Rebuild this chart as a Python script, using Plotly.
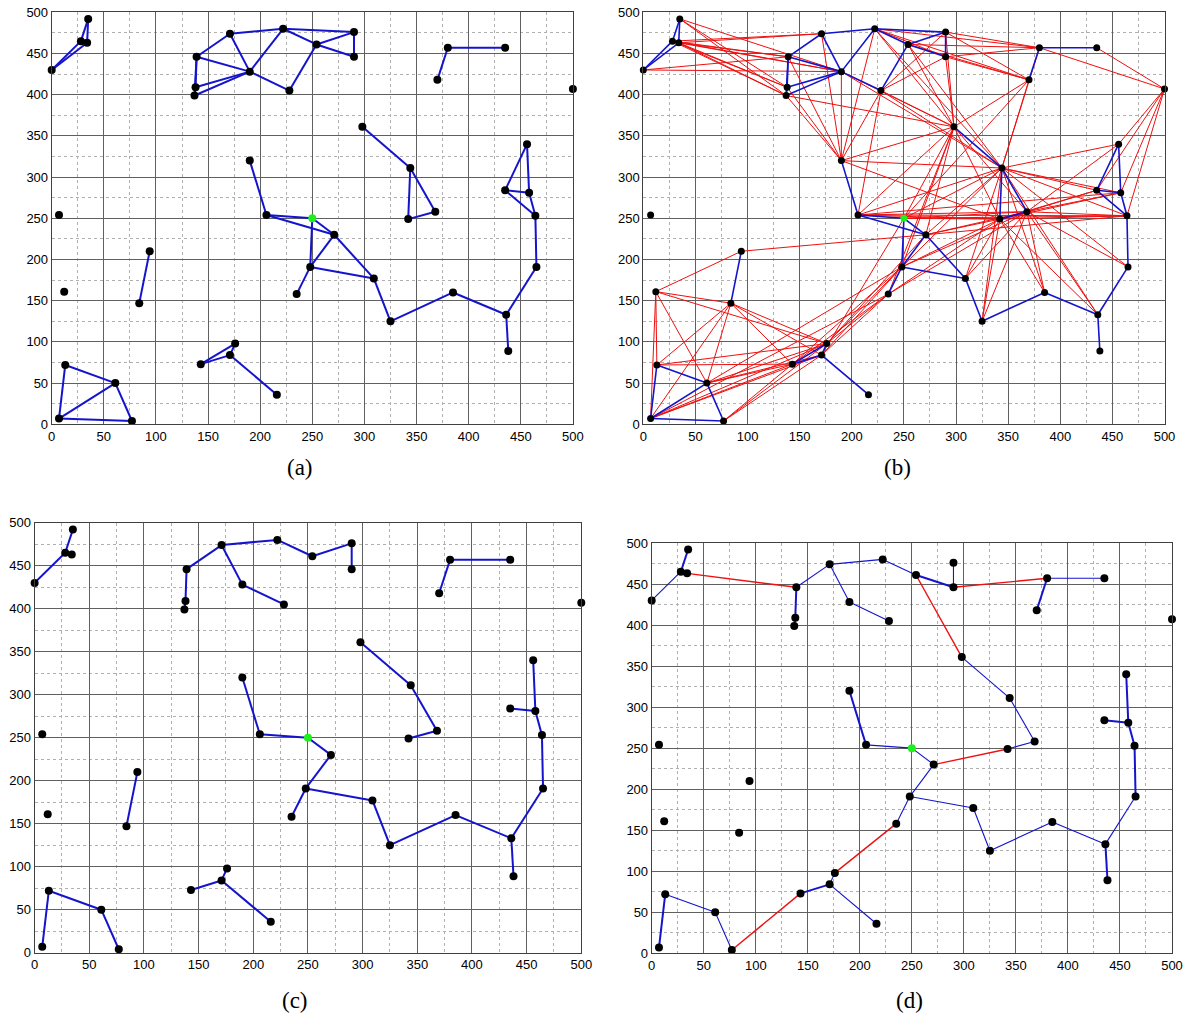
import plotly.graph_objects as go

# ---------------- data ----------------
node_x = [0, 28, 34, 35, 139, 138, 137, 171, 190, 222, 228, 254, 290, 290, 380, 435, 370, 500, 298, 344,
          368, 342, 456, 435, 458, 464, 465, 436, 438, 385, 325, 309, 271, 248, 235, 250, 206, 190, 7, 12,
          94, 84, 13, 61, 7, 77, 143, 176, 171, 216]
node_y = [430, 465, 463, 492, 446, 409, 399, 474, 428, 480, 405, 461, 476, 446, 457, 457, 418, 407, 361, 311,
          258, 249, 340, 284, 281, 253, 191, 133, 89, 160, 125, 177, 230, 191, 158, 250, 254, 320, 254, 161,
          210, 147, 72, 50, 7, 4, 73, 98, 84, 36]
source_node = 36  # green node (1-based)

# (a) / (b) blue edges (1-based node indices)
blue_a = [(1, 2), (1, 3), (2, 3), (2, 4), (3, 4),
          (5, 6), (6, 7), (5, 7), (5, 9), (6, 9), (7, 9), (5, 8), (8, 9), (8, 10), (9, 10), (9, 11),
          (10, 12), (11, 12), (10, 13), (12, 13), (12, 14), (13, 14),
          (15, 16), (15, 17),
          (19, 20), (20, 21), (20, 22), (21, 22),
          (23, 24), (23, 25), (24, 25), (24, 26), (25, 26), (26, 27), (27, 28), (28, 29), (28, 30),
          (30, 31), (31, 32), (32, 33), (32, 34), (33, 34), (34, 35), (34, 36), (36, 37), (37, 33),
          (36, 33), (37, 38),
          (41, 42),
          (43, 44), (43, 45), (44, 45), (44, 46), (45, 46),
          (47, 48), (47, 49), (48, 49), (49, 50)]

# (b) red edges
red_b = [(1, 5), (1, 9), (2, 5), (2, 6), (2, 7), (2, 8), (2, 9), (3, 5), (3, 6), (3, 7), (3, 8), (3, 9),
         (4, 6), (4, 7), (4, 9),
         (5, 38), (6, 38), (7, 38), (8, 38), (9, 38), (10, 38), (11, 38), (7, 19),
         (10, 14), (10, 15), (10, 17), (10, 19), (10, 20), (11, 13), (11, 14), (11, 19), (11, 20), (11, 37),
         (9, 19), (9, 20),
         (12, 15), (12, 17), (12, 19), (12, 20), (13, 15), (13, 17), (13, 19), (14, 15), (14, 17), (14, 19),
         (15, 18), (16, 18), (15, 20), (17, 19), (17, 20), (17, 36),
         (18, 23), (18, 24), (18, 25), (18, 26),
         (19, 33), (19, 34), (19, 35), (19, 36), (19, 37), (19, 21), (19, 22), (38, 19), (38, 20), (38, 22),
         (20, 23), (20, 24), (20, 25), (20, 26), (20, 27), (20, 28), (20, 30), (20, 31), (20, 32), (20, 33),
         (20, 34), (20, 36), (20, 37),
         (21, 23), (21, 24), (21, 25), (21, 26), (21, 27), (21, 28), (21, 30), (21, 31), (21, 32), (21, 33),
         (21, 34), (21, 35), (21, 36), (21, 37),
         (22, 24), (22, 25), (22, 26), (22, 28), (22, 30), (22, 31), (22, 32), (22, 33), (22, 34), (22, 35),
         (22, 36), (22, 37),
         (36, 26), (37, 26), (37, 25), (33, 26),
         (40, 41), (40, 42), (40, 43), (40, 44), (40, 45), (40, 48), (41, 33),
         (42, 43), (42, 44), (42, 45), (42, 47), (42, 48), (42, 49),
         (43, 47), (43, 48), (44, 47), (44, 48), (44, 49), (45, 47), (45, 48), (45, 49),
         (46, 47), (46, 48), (46, 49),
         (47, 34), (47, 35), (48, 34), (48, 35), (48, 33), (49, 34), (49, 35), (49, 36), (44, 34), (45, 35)]

# (c) tree edges
blue_c = [(1, 2), (2, 3), (2, 4),
          (5, 6), (6, 7), (5, 8), (8, 10), (8, 9), (9, 11), (10, 12), (12, 13), (13, 14),
          (15, 16), (15, 17),
          (19, 20), (20, 21), (21, 22),
          (23, 25), (24, 25), (25, 26), (26, 27), (27, 28), (28, 29), (28, 30), (30, 31), (31, 32),
          (32, 34), (34, 35), (34, 33), (33, 36), (36, 37), (37, 38),
          (41, 42),
          (43, 45), (43, 44), (44, 46),
          (47, 49), (48, 49), (49, 50)]

# (d) tree edges
blue_d_thick = [(2, 4), (5, 6), (6, 7), (15, 17), (23, 25), (24, 25), (25, 26), (26, 27), (28, 29),
                (37, 38), (43, 45), (47, 49), (12, 14)]
blue_d_thin = [(1, 2), (2, 3), (5, 8), (8, 10), (8, 9), (9, 11), (10, 12), (13, 14), (15, 16),
               (19, 20), (20, 21), (21, 22), (27, 28), (28, 30), (30, 31), (31, 32), (32, 34), (34, 35),
               (34, 33), (33, 36), (36, 37), (43, 44), (44, 46), (48, 49), (49, 50)]
red_d = [(3, 5), (14, 15), (12, 19), (33, 22), (46, 47), (48, 35)]

captions = ["(a)", "(b)", "(c)", "(d)"]
tick_vals = [0, 50, 100, 150, 200, 250, 300, 350, 400, 450, 500]

# ---------------- figure ----------------
W, H = 1184, 1018
BLUE = "#1414cc"
RED = "#ee1010"


def edge_xy(edges):
    xs, ys = [], []
    for a, b in edges:
        xs += [node_x[a - 1], node_x[b - 1], None]
        ys += [node_y[a - 1], node_y[b - 1], None]
    return xs, ys


def px_dom(a, b, total, flip=False):
    if flip:
        return [1 - b / total, 1 - a / total]
    return [a / total, b / total]


panels = [
    # x0px, x1px, ytop px, ybottom px  (page pixels)
    (51.7, 572.9, 12.3, 424.3),
    (643.3, 1164.5, 12.3, 424.3),
    (34.6, 581.3, 522.7, 952.7),
    (651.7, 1172.0, 543.0, 953.3),
]
caption_pos = [(300, 468), (897, 468), (295, 1000), (909, 1000)]

fig = go.Figure()
layout = dict(width=W, height=H, margin=dict(l=0, r=0, t=0, b=0),
              paper_bgcolor="white", plot_bgcolor="white", showlegend=False, annotations=[])

for i, (x0, x1, yt, yb) in enumerate(panels):
    n = "" if i == 0 else str(i + 1)
    common = dict(range=[0, 500], tickmode="array", tickvals=tick_vals,
                  showgrid=True, gridcolor="#606060", gridwidth=1,
                  minor=dict(tickmode="linear", tick0=25, dtick=50, showgrid=True,
                             gridcolor="#b0b0b0", griddash="dot", gridwidth=1),
                  showline=True, mirror=True, linecolor="#404040", linewidth=1,
                  zeroline=False, ticks="", fixedrange=True, automargin=False,
                  ticklabeloverflow="allow",
                  tickfont=dict(family="Liberation Sans, Arial", size=13, color="black"))
    layout["xaxis" + n] = dict(domain=px_dom(x0, x1, W), anchor="y" + n, **common)
    layout["yaxis" + n] = dict(domain=px_dom(yt, yb, H, flip=True), anchor="x" + n, **common)
    cx, cy = caption_pos[i]
    layout["annotations"].append(dict(text=captions[i], x=cx / W, y=1 - cy / H,
                                      xref="paper", yref="paper", showarrow=False,
                                      xanchor="center", yanchor="middle",
                                      font=dict(family="Liberation Serif, DejaVu Serif", size=23,
                                                color="black")))


def add_edges(edges, color, width, i):
    n = "" if i == 0 else str(i + 1)
    xs, ys = edge_xy(edges)
    fig.add_trace(go.Scatter(x=xs, y=ys, mode="lines", line=dict(color=color, width=width),
                             xaxis="x" + n, yaxis="y" + n, hoverinfo="skip", cliponaxis=False))


def add_nodes(i, size):
    n = "" if i == 0 else str(i + 1)
    bx = [x for k, x in enumerate(node_x) if k != source_node - 1]
    by = [y for k, y in enumerate(node_y) if k != source_node - 1]
    fig.add_trace(go.Scatter(x=bx, y=by, mode="markers",
                             marker=dict(color="black", size=size),
                             xaxis="x" + n, yaxis="y" + n, cliponaxis=False))
    fig.add_trace(go.Scatter(x=[node_x[source_node - 1]], y=[node_y[source_node - 1]], mode="markers",
                             marker=dict(color="#1ef01e", size=size),
                             xaxis="x" + n, yaxis="y" + n, cliponaxis=False))


# (a)
add_edges(blue_a, BLUE, 2, 0)
add_nodes(0, 8)
# (b)
add_edges(red_b, RED, 1, 1)
add_edges(blue_a, BLUE, 1.6, 1)
add_nodes(1, 7)
# (c)
add_edges(blue_c, BLUE, 2, 2)
add_nodes(2, 8)
# (d)
add_edges(blue_d_thin, BLUE, 1.1, 3)
add_edges(blue_d_thick, BLUE, 2, 3)
add_edges(red_d, RED, 1.4, 3)
add_nodes(3, 8)

fig.update_layout(**layout)
fig.write_html("out.html", config={"displayModeBar": False},
               post_script="document.body.style.margin='0px';")
